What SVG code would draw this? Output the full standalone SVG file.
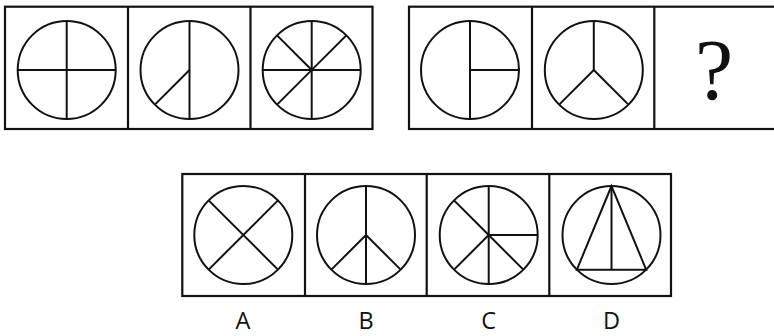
<svg xmlns="http://www.w3.org/2000/svg" width="774" height="336" viewBox="0 0 774 336">
<style>
.b{fill:none;stroke:#111;stroke-width:2.2}
.c{fill:none;stroke:#111;stroke-width:2}
.l{stroke:#111;stroke-width:2;fill:none}
.t{font-family:"Open Sans","Noto Sans",sans-serif;font-size:23.5px;fill:#111;text-anchor:middle}
</style>
<rect width="774" height="336" fill="#fff"/>
<g id="row1">
<rect class="b" x="5" y="6.7" width="367.5" height="122.3"/>
<line class="b" x1="128" y1="6.7" x2="128" y2="129"/>
<line class="b" x1="250.5" y1="6.7" x2="250.5" y2="129"/>
<rect class="b" x="409" y="6.7" width="368" height="122.3"/>
<line class="b" x1="532" y1="6.7" x2="532" y2="129"/>
<line class="b" x1="654.3" y1="6.7" x2="654.3" y2="129"/>
</g>
<g id="fig1">
<circle class="c" cx="66.7" cy="70" r="49"/>
<line class="l" x1="66.7" y1="21" x2="66.7" y2="119"/>
<line class="l" x1="17.7" y1="70" x2="115.7" y2="70"/>
</g>
<g id="fig2">
<circle class="c" cx="189.5" cy="70" r="49"/>
<line class="l" x1="189.5" y1="21" x2="189.5" y2="119"/>
<line class="l" x1="189.5" y1="70" x2="154.85" y2="104.65"/>
</g>
<g id="fig3">
<circle class="c" cx="311.7" cy="70" r="49"/>
<line class="l" x1="311.7" y1="21" x2="311.7" y2="119"/>
<line class="l" x1="262.7" y1="70" x2="360.7" y2="70"/>
<line class="l" x1="277.05" y1="35.35" x2="311.7" y2="70"/>
<line class="l" x1="346.35" y1="35.35" x2="277.05" y2="104.65"/>
</g>
<g id="fig4">
<circle class="c" cx="470" cy="70" r="49"/>
<line class="l" x1="470" y1="21" x2="470" y2="119"/>
<line class="l" x1="470" y1="70" x2="519" y2="70"/>
</g>
<g id="fig5">
<circle class="c" cx="593.8" cy="70" r="49"/>
<line class="l" x1="593.8" y1="21" x2="593.8" y2="70"/>
<line class="l" x1="593.8" y1="70" x2="559.15" y2="104.65"/>
<line class="l" x1="593.8" y1="70" x2="628.45" y2="104.65"/>
</g>
<g id="question">
<text x="714" y="99" style="font-family:'Liberation Serif','DejaVu Serif',serif;font-size:86px;fill:#111;text-anchor:middle">?</text>
</g>
<g id="options">
<rect class="b" x="182.3" y="174" width="488.7" height="122"/>
<line class="b" x1="305" y1="174" x2="305" y2="296"/>
<line class="b" x1="426.7" y1="174" x2="426.7" y2="296"/>
<line class="b" x1="549.3" y1="174" x2="549.3" y2="296"/>
</g>
<g id="optA">
<circle class="c" cx="243.3" cy="235" r="49"/>
<line class="l" x1="208.65" y1="200.35" x2="277.95" y2="269.65"/>
<line class="l" x1="277.95" y1="200.35" x2="208.65" y2="269.65"/>
<text class="t" x="243" y="329">A</text>
</g>
<g id="optB">
<circle class="c" cx="366" cy="235" r="49"/>
<line class="l" x1="366" y1="186" x2="366" y2="284"/>
<line class="l" x1="366" y1="235" x2="331.35" y2="269.65"/>
<line class="l" x1="366" y1="235" x2="400.65" y2="269.65"/>
<text class="t" x="366" y="329">B</text>
</g>
<g id="optC">
<circle class="c" cx="488.7" cy="235" r="49"/>
<line class="l" x1="488.7" y1="186" x2="488.7" y2="284"/>
<line class="l" x1="488.7" y1="235" x2="537.7" y2="235"/>
<line class="l" x1="454.05" y1="200.35" x2="488.7" y2="235"/>
<line class="l" x1="488.7" y1="235" x2="454.05" y2="269.65"/>
<line class="l" x1="488.7" y1="235" x2="523.35" y2="269.65"/>
<text class="t" x="488.7" y="329">C</text>
</g>
<g id="optD">
<circle class="c" cx="611.5" cy="235" r="49"/>
<polygon class="l" points="611.5,186 576.85,269.65 646.15,269.65"/>
<line class="l" x1="611.5" y1="186" x2="611.5" y2="269.65"/>
<text class="t" x="611.5" y="329">D</text>
</g>
</svg>
